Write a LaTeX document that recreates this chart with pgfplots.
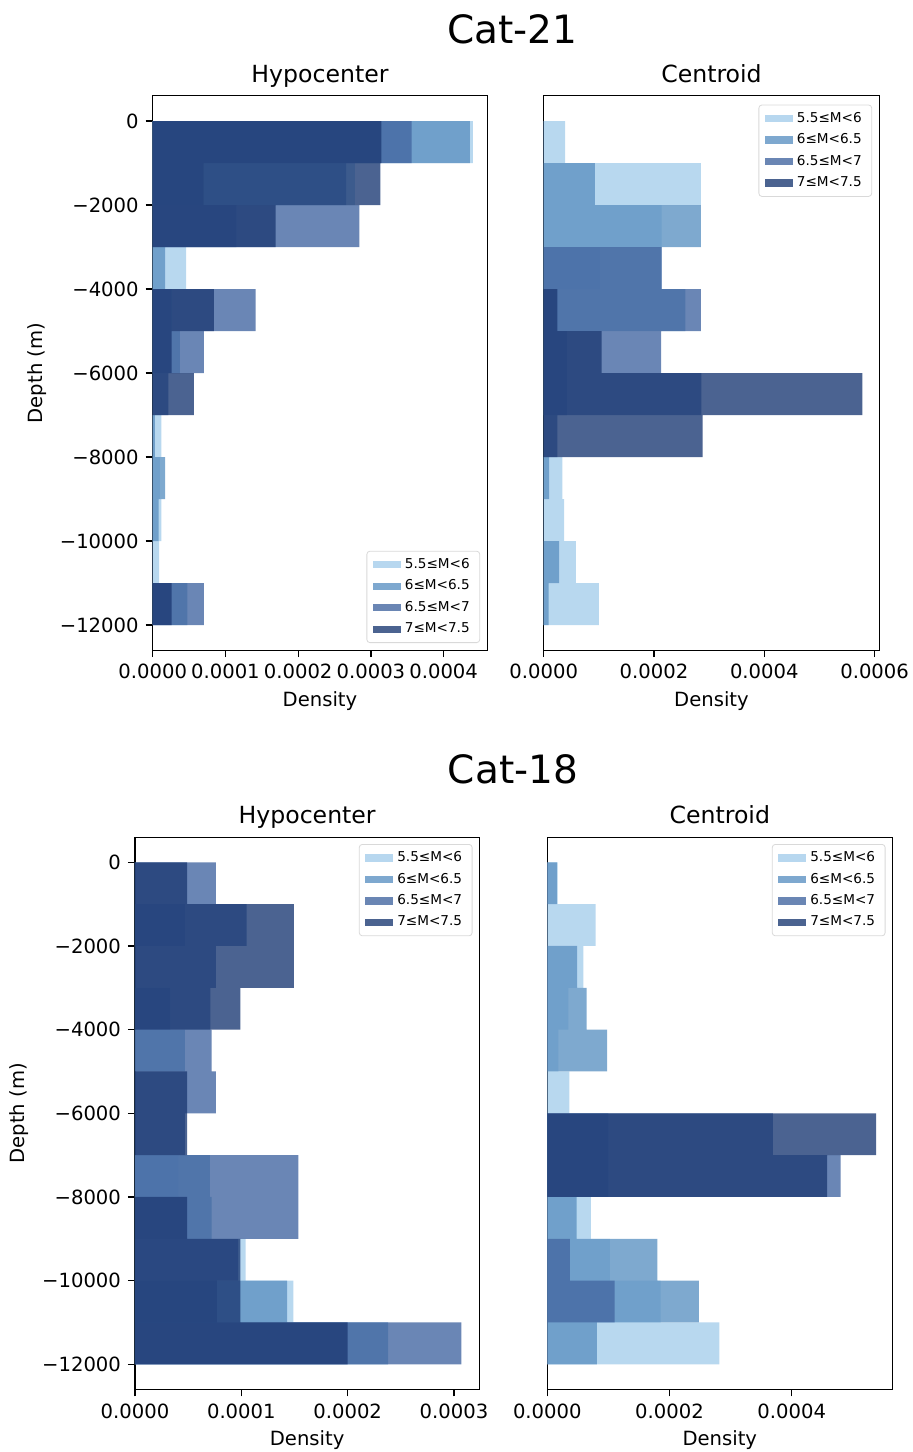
\documentclass[border=0pt]{standalone}
\usepackage{pgfplots}
\pgfplotsset{compat=1.18}
\usepackage{pgfplotstable}
\usepackage{fontspec}
\setmainfont{DejaVu Sans}

\definecolor{cL}{RGB}{166,206,235}
\definecolor{cM}{RGB}{94,147,195}
\definecolor{cS}{RGB}{69,104,162}
\definecolor{cN}{RGB}{30,60,117}

% columns: bin centre depth, 5.5<=M<6, 6<=M<6.5, 6.5<=M<7, 7<=M<7.5
\pgfplotstableread{
y      L        M        S        N
-500   4.40e-4  4.36e-4  3.56e-4  3.145e-4
-1500  2.78e-4  2.66e-4  0.70e-4  3.13e-4
-2500  0        1.15e-4  2.84e-4  1.69e-4
-3500  0.46e-4  0.17e-4  0        0
-4500  0        0.26e-4  1.415e-4 0.84e-4
-5500  0        0.375e-4 0.705e-4 0.26e-4
-6500  0        0        0.215e-4 0.567e-4
-7500  0.12e-4  0.03e-4  0        0
-8500  0.10e-4  0.17e-4  0        0
-9500  0.12e-4  0.08e-4  0        0
-10500 0.09e-4  0        0        0
-11500 0        0.475e-4 0.705e-4 0.26e-4
}\hypoA
\pgfplotstableread{
y      L        M        S        N
-500   0.39e-4  0        0        0
-1500  2.85e-4  0.93e-4  0        0
-2500  2.14e-4  2.85e-4  0        0
-3500  1.02e-4  2.14e-4  2.14e-4  0
-4500  0        2.57e-4  2.85e-4  0.25e-4
-5500  0        0.42e-4  2.13e-4  1.05e-4
-6500  0        0.42e-4  2.86e-4  5.78e-4
-7500  0        0        0.25e-4  2.88e-4
-8500  0.34e-4  0.10e-4  0        0
-9500  0.37e-4  0        0        0
-10500 0.585e-4 0.28e-4  0        0
-11500 1.00e-4  0.09e-4  0        0
}\centA
\pgfplotstableread{
y      L        M        S        N
-500   0        0        0.76e-4  0.49e-4
-1500  0        0.47e-4  1.05e-4  1.495e-4
-2500  0        0        0.76e-4  1.495e-4
-3500  0        0.33e-4  0.71e-4  0.99e-4
-4500  0        0.47e-4  0.72e-4  0
-5500  0        0        0.76e-4  0.49e-4
-6500  0        0        0.47e-4  0.49e-4
-7500  0.41e-4  0.705e-4 1.536e-4 0
-8500  0        0.72e-4  1.536e-4 0.49e-4
-9500  1.04e-4  0        0.97e-4  0.99e-4
-10500 1.49e-4  1.43e-4  0.77e-4  0.99e-4
-11500 0        2.38e-4  3.07e-4  2.00e-4
}\hypoB
\pgfplotstableread{
y      L        M        S        N
-500   0.17e-4  0.16e-4  0        0
-1500  0.79e-4  0        0        0
-2500  0.59e-4  0.49e-4  0        0
-3500  0.345e-4 0.645e-4 0        0
-4500  0.18e-4  0.98e-4  0        0
-5500  0.36e-4  0        0        0
-6500  0        1.00e-4  3.69e-4  5.38e-4
-7500  0        1.00e-4  4.80e-4  4.58e-4
-8500  0.715e-4 0.48e-4  0        0
-9500  1.026e-4 1.80e-4  0.37e-4  0
-10500 1.855e-4 2.48e-4  1.10e-4  0
-11500 2.815e-4 0.81e-4  0        0
}\centB

\pgfplotsset{
  histax/.style={
    scale only axis,
    xmin=0, ymin=-12600, ymax=600,
    axis line style={line width=0.6pt},
    tick style={black, line width=0.6pt},
    major tick length=3.5pt,
    tick align=outside,
    tick pos=left,
    scaled x ticks=false,
    scaled y ticks=false,
    ticklabel style={font=\fontsize{9.8}{11}\selectfont},
    label style={font=\fontsize{9.8}{11}\selectfont},
    title style={font=\fontsize{11.8}{13}\selectfont, at={(0.5,1)}, anchor=base, yshift=0.9pt},
    xlabel={Density},
    xlabel style={at={(0.5,0)}, anchor=base, yshift=-28pt},
    legend cell align=left,
    legend style={font=\fontsize{6.8}{8}\selectfont, draw=black!15, rounded corners=1.5pt,
      inner xsep=3pt, inner ysep=1.5pt, row sep=0.2pt,
      /tikz/every even column/.append style={column sep=1pt}},
    legend image code/.code={\fill[##1, draw=none, sharp corners] (0pt,-1.8pt) rectangle (14pt,1.8pt);},
  },
  hbar/.style={xbar, bar shift=0pt, bar width=1000, draw=none, fill=#1, fill opacity=0.8},
  hypoticks/.style={ytick={-12000,-10000,-8000,-6000,-4000,-2000,0},
    yticklabels={−12000,−10000,−8000,−6000,−4000,−2000,0}, ylabel={Depth (m)}},
}

\newcommand{\fourbars}[1]{%
  \addplot[hbar=cL] table[x=L,y=y] {#1};
  \addplot[hbar=cM] table[x=M,y=y] {#1};
  \addplot[hbar=cS] table[x=S,y=y] {#1};
  \addplot[hbar=cN] table[x=N,y=y] {#1};
  \legend{5.5≤M<6, 6≤M<6.5, 6.5≤M<7, 7≤M<7.5}
}

\begin{document}
\begin{tikzpicture}
\useasboundingbox (0,0) rectangle (456pt,-726pt);

\node[font=\fontsize{19.5}{22}\selectfont] at (256.25pt,-14.5pt) {Cat-21};
\node[font=\fontsize{19.5}{22}\selectfont] at (256.5pt,-384.5pt) {Cat-18};

% Cat-21 hypocenter
\begin{axis}[histax, hypoticks, anchor=north west, at={(76.35pt,-47.9pt)},
  width=167.3pt, height=277.2pt, xmax=4.6e-4, title={Hypocenter},
  xtick={0,1e-4,2e-4,3e-4,4e-4}, xticklabels={0.0000,0.0001,0.0002,0.0003,0.0004},
  legend style={at={(1,0)}, anchor=south east, xshift=-3.6pt, yshift=3.6pt}]
\fourbars{\hypoA}
\end{axis}

% Cat-21 centroid
\begin{axis}[histax, anchor=north west, at={(271.85pt,-47.9pt)},
  width=167.8pt, height=277.2pt, xmax=6.085e-4, title={Centroid}, ytick=\empty,
  xtick={0,2e-4,4e-4,6e-4}, xticklabels={0.0000,0.0002,0.0004,0.0006},
  legend style={at={(1,1)}, anchor=north east, xshift=-3.6pt, yshift=-4.4pt}]
\fourbars{\centA}
\end{axis}

% Cat-18 hypocenter
\begin{axis}[histax, hypoticks, anchor=north west, at={(67.5pt,-418.6pt)},
  width=172.15pt, height=276.1pt, xmax=3.238e-4, title={Hypocenter},
  xtick={0,1e-4,2e-4,3e-4}, xticklabels={0.0000,0.0001,0.0002,0.0003},
  legend style={at={(1,1)}, anchor=north east, xshift=-3.4pt, yshift=-3.4pt}]
\fourbars{\hypoB}
\end{axis}

% Cat-18 centroid
\begin{axis}[histax, anchor=north west, at={(273.65pt,-418.6pt)},
  width=172.5pt, height=276.1pt, xmax=5.646e-4, title={Centroid}, ytick=\empty,
  xtick={0,2e-4,4e-4}, xticklabels={0.0000,0.0002,0.0004},
  legend style={at={(1,1)}, anchor=north east, xshift=-3.4pt, yshift=-3.4pt}]
\fourbars{\centB}
\end{axis}
\end{tikzpicture}
\end{document}
